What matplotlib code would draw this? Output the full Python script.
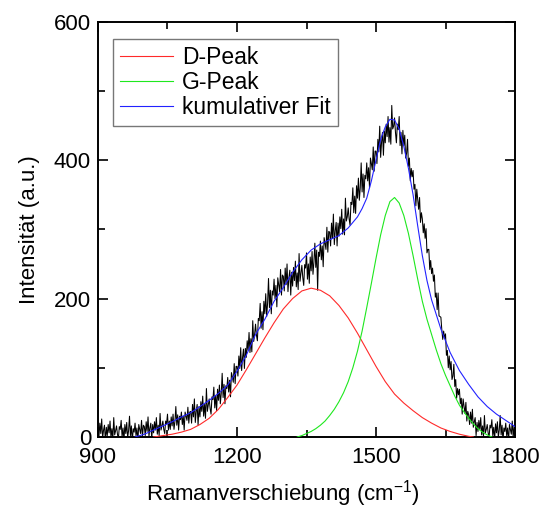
import numpy as np
import matplotlib
matplotlib.use("Agg")
import matplotlib.pyplot as plt
from matplotlib.ticker import MultipleLocator

plt.rcParams['font.family'] = ['Liberation Sans', 'DejaVu Sans']
plt.rcParams['mathtext.fontset'] = 'custom'
plt.rcParams['mathtext.rm'] = 'Liberation Sans'
plt.rcParams['mathtext.sf'] = 'Liberation Sans'

# --- measured spectrum (every 2 cm^-1 from 900 to 1800) ---
spec_start = 900
spec_step = 2
spectrum = [
    13, 0, 20, 5, 26, -2, 10, 17, -6, 14,
    2, 18, 6, 23, -1, 12, -4, 28, 3, 9,
    16, 4, -3, 15, 11, 24, 0, 13, -5, 18,
    5, 21, -1, 9, 30, 2, 16, -7, 12, 7,
    20, 2, 13, -7, 18, 11, 5, 24, 0, 17,
    15, 2, 22, 8, 29, 1, 13, 20, -3, 18,
    6, 22, 10, 28, 4, 17, 2, 34, 10, 16,
    23, 11, 5, 23, 19, 33, 10, 23, 11, 29,
    16, 33, 11, 22, 44, 17, 32, 10, 30, 25,
    36, 18, 30, 10, 36, 30, 24, 43, 20, 36,
    37, 20, 47, 29, 55, 21, 37, 47, 17, 44,
    29, 51, 37, 59, 30, 47, 27, 70, 37, 46,
    55, 41, 33, 58, 54, 72, 42, 60, 38, 69,
    53, 75, 48, 63, 92, 57, 76, 48, 74, 70,
    86, 65, 82, 58, 93, 87, 79, 106, 77, 102,
    102, 88, 117, 99, 129, 96, 115, 127, 99, 128,
    115, 139, 125, 151, 122, 142, 123, 168, 138, 148,
    163, 147, 139, 171, 168, 193, 157, 181, 155, 196,
    178, 207, 174, 193, 229, 187, 212, 178, 211, 205,
    228, 200, 219, 188, 230, 220, 210, 242, 205, 234,
    232, 211, 244, 220, 250, 210, 230, 241, 205, 238,
    218, 245, 226, 254, 217, 237, 213, 265, 225, 236,
    248, 230, 219, 249, 244, 266, 228, 250, 222, 260,
    240, 268, 235, 253, 280, 245, 270, 212, 267, 261,
    283, 256, 276, 246, 288, 280, 271, 303, 267, 297,
    296, 276, 309, 287, 322, 278, 298, 310, 276, 309,
    290, 318, 301, 329, 293, 315, 292, 345, 312, 318,
    331, 315, 306, 339, 336, 360, 324, 348, 323, 363,
    345, 374, 342, 360, 396, 354, 380, 346, 378, 373,
    396, 370, 389, 360, 403, 395, 386, 419, 384, 413,
    413, 395, 430, 412, 449, 404, 426, 440, 407, 442,
    425, 452, 434, 463, 426, 447, 423, 479, 445, 449,
    461, 440, 425, 452, 444, 463, 421, 440, 409, 443,
    421, 436, 403, 410, 430, 391, 403, 370, 388, 376,
    385, 358, 365, 334, 358, 343, 329, 346, 310, 324,
    315, 295, 308, 287, 301, 266, 271, 271, 242, 255,
    236, 244, 225, 234, 202, 208, 184, 208, 175, 174,
    173, 155, 141, 153, 142, 149, 118, 125, 100, 117,
    97, 109, 83, 88, 105, 73, 83, 56, 70, 61,
    69, 48, 56, 33, 55, 45, 34, 50, 23, 37,
    32, 18, 36, 20, 40, 14, 22, 28, 2, 21,
    8, 24, 11, 28, 3, 16, 0, 31, 6, 11,
    18, 6, -1, 17, 13, 25, 2, 14, -4, 19,
    6, 22, 0, 10, 31, 3, 17, -6, 13, 8,
    20, 2, 13, -7, 18, 11, 4, 23, -1, 16,
    10,
]
spec_x = spec_start + spec_step * np.arange(len(spectrum))

# --- D-Peak fit ---
d_x = [1020, 1040, 1060, 1080, 1100, 1120, 1140, 1160, 1180, 1200, 1220, 1240,
       1260, 1280, 1300, 1320, 1340, 1360, 1380, 1400, 1420, 1440, 1460, 1480,
       1500, 1520, 1540, 1560, 1580, 1600, 1620, 1640, 1660, 1680, 1700, 1710]
d_y = [0, 2, 4, 7, 11, 18, 27, 40, 57, 75, 97, 120,
       143, 165, 185, 200, 211, 215, 212, 204, 190, 172, 150, 126,
       102, 80, 62, 49, 38, 28, 20, 13, 8, 4, 1, 0]

# --- G-Peak fit ---
g_x = [1330, 1340, 1350, 1360, 1370, 1380, 1390, 1400, 1410, 1420, 1430, 1440,
       1450, 1460, 1470, 1480, 1490, 1500, 1510, 1520, 1530, 1540, 1550, 1560,
       1570, 1580, 1590, 1600, 1610, 1620, 1630, 1640, 1650, 1660, 1670, 1680,
       1690, 1700, 1710, 1720, 1730, 1740, 1750]
g_y = [0, 2, 5, 8, 12, 17, 23, 31, 40, 51, 64, 80,
       100, 124, 153, 187, 222, 258, 292, 320, 340, 346, 338, 320,
       294, 262, 228, 196, 170, 148, 126, 106, 89, 74, 59, 46,
       36, 27, 19, 12, 7, 3, 0]

# --- cumulative fit ---
c_x = [980, 1000, 1020, 1040, 1060, 1080, 1100, 1120, 1140, 1160, 1180, 1200,
       1220, 1240, 1260, 1280, 1300, 1320, 1340, 1360, 1380, 1400, 1420, 1440,
       1460, 1470, 1480, 1490, 1500, 1510, 1520, 1530, 1540, 1550, 1560, 1570,
       1580, 1590, 1600, 1610, 1620, 1640, 1660, 1680, 1700, 1720, 1740, 1760,
       1780, 1800]
c_y = [0, 4, 10, 16, 22, 29, 35, 44, 53, 63, 75, 95,
       118, 148, 170, 196, 216, 238, 256, 270, 279, 285, 291, 302,
       318, 330, 345, 370, 400, 430, 448, 459, 458, 445, 420, 388,
       350, 305, 262, 226, 198, 156, 122, 96, 76, 58, 44, 33,
       24, 15]

labels = ["D-Peak", "G-Peak", "kumulativer Fit"]
x_ticks = [900, 1200, 1500, 1800]
y_ticks = [0, 200, 400, 600]

fig = plt.figure(figsize=(5.39, 5.08), dpi=100)
ax = fig.add_axes([0.1818, 0.1398, 0.9555 - 0.1818, 0.9573 - 0.1398])

ax.plot(spec_x, spectrum, color='black', lw=0.75, zorder=2)
l_d, = ax.plot(d_x, d_y, color='#ff2a2a', lw=0.8, label=labels[0], zorder=3)
l_g, = ax.plot(g_x, g_y, color='#1ee81e', lw=0.8, label=labels[1], zorder=3)
l_c, = ax.plot(c_x, c_y, color='#2222ff', lw=0.8, label=labels[2], zorder=4)

ax.set_xlim(900, 1800)
ax.set_ylim(0, 600)
ax.set_xticks(x_ticks)
ax.set_yticks(y_ticks)
ax.xaxis.set_minor_locator(MultipleLocator(150))
ax.yaxis.set_minor_locator(MultipleLocator(100))
ax.tick_params(which='both', direction='in', top=True, right=True,
               labelsize=16, width=1.2, pad=5)
ax.tick_params(axis='x', which='both', pad=7)
ax.tick_params(which='major', length=7)
ax.tick_params(which='minor', length=5)
for s in ax.spines.values():
    s.set_linewidth(1.4)

ax.set_xlabel(r"Ramanverschiebung (cm$^{\mathregular{-1}}$)", fontsize=16)
ax.xaxis.set_label_coords(0.444, -0.1)
ax.set_ylabel("Intensität (a.u.)", fontsize=16, labelpad=10)

leg = ax.legend(handles=[l_d, l_g, l_c], loc='upper left',
                bbox_to_anchor=(0.02, 0.975), fontsize=16.5,
                frameon=True, fancybox=False, edgecolor='#555555',
                handlelength=2.3, handletextpad=0.4, labelspacing=0.1,
                borderpad=0.3, borderaxespad=0.3)
leg.get_frame().set_linewidth(1.0)

fig.savefig("out.png", dpi=100)
